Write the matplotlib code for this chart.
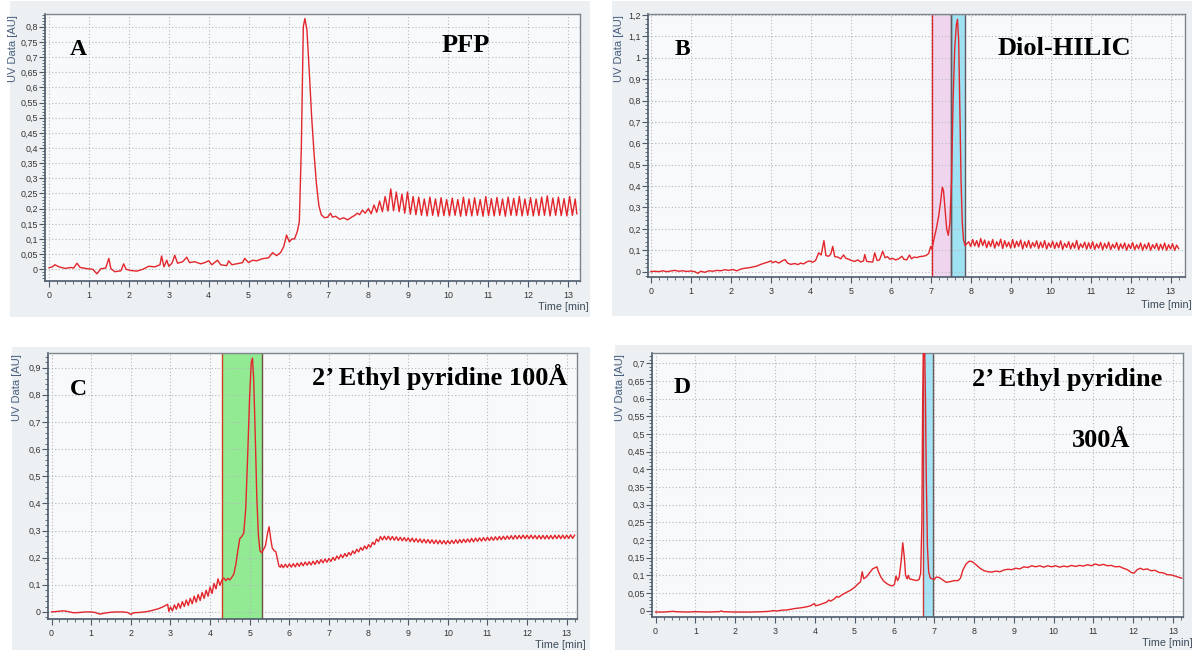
import numpy as np
import matplotlib
matplotlib.use('Agg')
import matplotlib.pyplot as plt
from matplotlib.patches import Rectangle
from matplotlib.ticker import MultipleLocator, FuncFormatter

W, H = 1194, 650

# ---- panel A (PFP) ----
a_time = [0.00, 0.08, 0.15, 0.25, 0.40, 0.55, 0.62, 0.70, 0.78, 0.95,
          1.10, 1.20, 1.30, 1.42, 1.50, 1.55, 1.65, 1.80, 1.87, 1.93,
          2.05, 2.20, 2.35, 2.50, 2.65, 2.78, 2.82, 2.88, 2.95, 3.00,
          3.08, 3.15, 3.22, 3.35, 3.45, 3.52, 3.65, 3.80, 3.90, 4.00,
          4.08, 4.22, 4.30, 4.45, 4.50, 4.58, 4.70, 4.85, 4.90, 5.00,
          5.10, 5.20, 5.35, 5.50, 5.60, 5.70, 5.80, 5.88, 5.95, 6.02,
          6.08, 6.15, 6.22, 6.27, 6.32, 6.37, 6.41, 6.46, 6.52, 6.58,
          6.64, 6.70, 6.76, 6.82, 6.90, 6.98, 7.05, 7.10, 7.18, 7.28,
          7.38, 7.48, 7.58, 7.66, 7.72, 7.78, 7.85, 7.92,
          8.00, 8.07, 8.14, 8.21, 8.28, 8.35, 8.42, 8.49, 8.56, 8.63,
          8.70, 8.77, 8.84, 8.91, 8.98, 9.05, 9.12, 9.19, 9.26, 9.33,
          9.40, 9.47, 9.54, 9.61, 9.68, 9.75, 9.82, 9.89, 9.96, 10.03,
          10.10, 10.17, 10.24, 10.31, 10.38, 10.45, 10.52, 10.59, 10.66, 10.73,
          10.80, 10.87, 10.94, 11.01, 11.08, 11.15, 11.22, 11.29, 11.36, 11.43,
          11.50, 11.57, 11.64, 11.71, 11.78, 11.85, 11.92, 11.99, 12.06, 12.13,
          12.20, 12.27, 12.34, 12.41, 12.48, 12.55, 12.62, 12.69, 12.76, 12.83,
          12.90, 12.97, 13.04, 13.11, 13.18, 13.22]
a_uv = [0.005, 0.008, 0.015, 0.008, 0.003, 0.006, 0.004, 0.020, 0.006, 0.002,
        0.000, -0.015, 0.002, 0.004, 0.036, 0.002, -0.008, -0.005, 0.018, 0.000,
        -0.004, -0.006, 0.000, 0.010, 0.008, 0.015, 0.044, 0.008, 0.030, 0.010,
        0.020, 0.046, 0.020, 0.025, 0.040, 0.022, 0.025, 0.018, 0.022, 0.028,
        0.015, 0.030, 0.015, 0.012, 0.028, 0.015, 0.018, 0.022, 0.036, 0.022,
        0.030, 0.028, 0.035, 0.038, 0.055, 0.045, 0.055, 0.075, 0.113, 0.090,
        0.100, 0.100, 0.125, 0.157, 0.400, 0.800, 0.827, 0.790, 0.650, 0.500,
        0.380, 0.280, 0.210, 0.180, 0.170, 0.172, 0.185, 0.172, 0.175, 0.165,
        0.170, 0.163, 0.172, 0.178, 0.185, 0.180, 0.195, 0.185,
        0.200, 0.183, 0.212, 0.188, 0.225, 0.190, 0.240, 0.192, 0.265, 0.193,
        0.255, 0.190, 0.248, 0.185, 0.255, 0.182, 0.240, 0.180, 0.238, 0.178,
        0.232, 0.176, 0.238, 0.178, 0.232, 0.175, 0.236, 0.177, 0.230, 0.176,
        0.235, 0.178, 0.230, 0.175, 0.238, 0.177, 0.232, 0.176, 0.236, 0.178,
        0.230, 0.175, 0.240, 0.177, 0.233, 0.176, 0.237, 0.178, 0.232, 0.175,
        0.238, 0.178, 0.234, 0.177, 0.240, 0.176, 0.232, 0.178, 0.236, 0.176,
        0.232, 0.177, 0.238, 0.178, 0.242, 0.176, 0.235, 0.178, 0.238, 0.177,
        0.233, 0.176, 0.240, 0.178, 0.232, 0.183]

# ---- panel B (Diol-HILIC) ----
b_time = [0.00, 0.10, 0.20, 0.30, 0.40, 0.50, 0.60, 0.70, 0.80, 0.90,
          1.00, 1.10, 1.18, 1.25, 1.35, 1.45, 1.55, 1.65, 1.75, 1.85,
          1.95, 2.05, 2.15, 2.25, 2.35, 2.45, 2.55, 2.65, 2.75, 2.85,
          2.95, 3.00, 3.05, 3.12, 3.20, 3.30, 3.36, 3.42, 3.50, 3.60,
          3.68, 3.75, 3.82, 3.90, 3.97, 4.05, 4.12, 4.20, 4.26, 4.33,
          4.38, 4.45, 4.50, 4.55, 4.60, 4.68, 4.75, 4.82, 4.88, 4.95,
          5.02, 5.10, 5.18, 5.25, 5.32, 5.35, 5.40, 5.48, 5.55, 5.60,
          5.66, 5.72, 5.80, 5.86, 5.92, 5.98, 6.05, 6.12, 6.20, 6.28,
          6.33, 6.40, 6.47, 6.52, 6.58, 6.65, 6.72, 6.80, 6.88, 6.95,
          7.00, 7.03, 7.08, 7.14, 7.20, 7.25, 7.29, 7.32, 7.36, 7.40,
          7.44, 7.48, 7.52, 7.56, 7.60, 7.64, 7.67, 7.70, 7.73, 7.76,
          7.79, 7.82, 7.86, 7.90,
          7.95, 8.00, 8.05, 8.10, 8.15, 8.20, 8.25, 8.30, 8.35, 8.40,
          8.45, 8.50, 8.55, 8.60, 8.65, 8.70, 8.75, 8.80, 8.85, 8.90,
          8.95, 9.00, 9.05, 9.10, 9.15, 9.20, 9.25, 9.30, 9.35, 9.40,
          9.45, 9.50, 9.55, 9.60, 9.65, 9.70, 9.75, 9.80, 9.85, 9.90,
          9.95, 10.00, 10.05, 10.10, 10.15, 10.20, 10.25, 10.30, 10.35, 10.40,
          10.45, 10.50, 10.55, 10.60, 10.65, 10.70, 10.75, 10.80, 10.85, 10.90,
          10.95, 11.00, 11.05, 11.10, 11.15, 11.20, 11.25, 11.30, 11.35, 11.40,
          11.45, 11.50, 11.55, 11.60, 11.65, 11.70, 11.75, 11.80, 11.85, 11.90,
          11.95, 12.00, 12.05, 12.10, 12.15, 12.20, 12.25, 12.30, 12.35, 12.40,
          12.45, 12.50, 12.55, 12.60, 12.65, 12.70, 12.75, 12.80, 12.85, 12.90,
          12.95, 13.00, 13.05, 13.10, 13.15, 13.20]
b_uv = [0.000, 0.002, 0.000, 0.004, 0.000, 0.003, 0.006, 0.002, 0.004, 0.001,
        0.003, 0.000, -0.008, 0.002, -0.003, 0.004, 0.002, 0.006, 0.004, 0.009,
        0.006, 0.010, 0.004, 0.012, 0.016, 0.018, 0.022, 0.026, 0.034, 0.040,
        0.046, 0.050, 0.042, 0.048, 0.040, 0.052, 0.056, 0.040, 0.034, 0.038,
        0.033, 0.040, 0.036, 0.046, 0.050, 0.044, 0.052, 0.088, 0.078, 0.145,
        0.075, 0.072, 0.082, 0.118, 0.070, 0.068, 0.060, 0.078, 0.062, 0.058,
        0.052, 0.048, 0.055, 0.045, 0.050, 0.080, 0.048, 0.046, 0.045, 0.088,
        0.052, 0.055, 0.095, 0.065, 0.070, 0.058, 0.062, 0.055, 0.060, 0.072,
        0.058, 0.055, 0.078, 0.060, 0.068, 0.066, 0.070, 0.072, 0.075, 0.085,
        0.118, 0.105, 0.150, 0.200, 0.260, 0.330, 0.395, 0.380, 0.290, 0.200,
        0.170, 0.230, 0.420, 0.800, 1.040, 1.150, 1.180, 1.080, 0.760, 0.420,
        0.230, 0.150, 0.122, 0.130,
        0.140, 0.118, 0.150, 0.120, 0.145, 0.115, 0.155, 0.122, 0.148, 0.112,
        0.142, 0.118, 0.150, 0.110, 0.140, 0.120, 0.152, 0.108, 0.145, 0.116,
        0.138, 0.110, 0.150, 0.112, 0.142, 0.118, 0.148, 0.106, 0.140, 0.114,
        0.146, 0.110, 0.136, 0.116, 0.144, 0.108, 0.138, 0.112, 0.145, 0.106,
        0.134, 0.114, 0.142, 0.108, 0.136, 0.112, 0.144, 0.104, 0.132, 0.113,
        0.140, 0.106, 0.134, 0.110, 0.146, 0.104, 0.130, 0.112, 0.138, 0.105,
        0.135, 0.108, 0.140, 0.104, 0.130, 0.110, 0.137, 0.102, 0.132, 0.109,
        0.138, 0.103, 0.128, 0.110, 0.136, 0.102, 0.130, 0.108, 0.134, 0.100,
        0.128, 0.108, 0.136, 0.102, 0.126, 0.107, 0.134, 0.100, 0.128, 0.106,
        0.135, 0.100, 0.126, 0.108, 0.132, 0.101, 0.128, 0.104, 0.134, 0.100,
        0.126, 0.106, 0.130, 0.100, 0.124, 0.108]

# ---- panel C (2' Ethyl pyridine 100 A) ----
c_time = [0.00, 0.15, 0.30, 0.40, 0.55, 0.70, 0.85, 1.00, 1.10, 1.22,
          1.35, 1.50, 1.65, 1.80, 1.92, 2.00, 2.08, 2.20, 2.35, 2.50,
          2.60, 2.70, 2.80, 2.88, 2.93, 2.96,
          3.00, 3.05, 3.10, 3.15, 3.20, 3.25, 3.30, 3.35, 3.40, 3.45,
          3.50, 3.55, 3.60, 3.65, 3.70, 3.75, 3.80, 3.85, 3.90, 3.95,
          4.00, 4.05, 4.10, 4.15, 4.20, 4.25,
          4.30, 4.35, 4.40, 4.45, 4.50, 4.55, 4.60, 4.65, 4.70, 4.75,
          4.80, 4.85, 4.90, 4.95, 5.00, 5.04, 5.07, 5.10, 5.14, 5.18,
          5.22, 5.26, 5.30, 5.35, 5.40, 5.45, 5.49, 5.53, 5.57, 5.62,
          5.66, 5.70, 5.74, 5.78,
          5.80, 5.85, 5.90, 5.95, 6.00, 6.05, 6.10, 6.15, 6.20, 6.25,
          6.30, 6.35, 6.40, 6.45, 6.50, 6.55, 6.60, 6.65, 6.70, 6.75,
          6.80, 6.85, 6.90, 6.95, 7.00, 7.05, 7.10, 7.15, 7.20, 7.25,
          7.30, 7.35, 7.40, 7.45, 7.50, 7.55, 7.60, 7.65, 7.70, 7.75,
          7.80, 7.85, 7.90, 7.95, 8.00, 8.05, 8.10, 8.15, 8.20, 8.25,
          8.30, 8.35, 8.40, 8.45, 8.50, 8.55, 8.60, 8.65, 8.70, 8.75,
          8.80, 8.85, 8.90, 8.95, 9.00, 9.05, 9.10, 9.15, 9.20, 9.25,
          9.30, 9.35, 9.40, 9.45, 9.50, 9.55, 9.60, 9.65, 9.70, 9.75,
          9.80, 9.85, 9.90, 9.95, 10.00, 10.05, 10.10, 10.15, 10.20, 10.25,
          10.30, 10.35, 10.40, 10.45, 10.50, 10.55, 10.60, 10.65, 10.70, 10.75,
          10.80, 10.85, 10.90, 10.95, 11.00, 11.05, 11.10, 11.15, 11.20, 11.25,
          11.30, 11.35, 11.40, 11.45, 11.50, 11.55, 11.60, 11.65, 11.70, 11.75,
          11.80, 11.85, 11.90, 11.95, 12.00, 12.05, 12.10, 12.15, 12.20, 12.25,
          12.30, 12.35, 12.40, 12.45, 12.50, 12.55, 12.60, 12.65, 12.70, 12.75,
          12.80, 12.85, 12.90, 12.95, 13.00, 13.05, 13.10, 13.15, 13.20]
c_uv = [0.000, 0.002, 0.004, 0.002, -0.003, -0.002, 0.000, 0.000, -0.002, -0.008,
        -0.004, -0.001, 0.000, 0.000, -0.002, -0.009, -0.003, -0.002, 0.000, 0.004,
        0.008, 0.012, 0.018, 0.024, 0.028, 0.002,
        0.018, 0.004, 0.026, 0.010, 0.032, 0.014, 0.038, 0.020, 0.044, 0.024,
        0.050, 0.030, 0.058, 0.036, 0.064, 0.042, 0.072, 0.050, 0.080, 0.058,
        0.092, 0.068, 0.105, 0.085, 0.122, 0.098,
        0.118, 0.125, 0.115, 0.124, 0.118, 0.128, 0.140, 0.175, 0.225, 0.270,
        0.278, 0.290, 0.380, 0.580, 0.800, 0.920, 0.935, 0.860, 0.650, 0.420,
        0.280, 0.225, 0.218, 0.230, 0.245, 0.290, 0.314, 0.270, 0.235, 0.225,
        0.222, 0.195, 0.168, 0.165,
        0.175, 0.163, 0.176, 0.164, 0.177, 0.165, 0.178, 0.166, 0.180, 0.168,
        0.182, 0.170, 0.184, 0.172, 0.185, 0.173, 0.187, 0.175, 0.190, 0.178,
        0.193, 0.181, 0.195, 0.183, 0.197, 0.186, 0.201, 0.190, 0.206, 0.195,
        0.211, 0.200, 0.215, 0.204, 0.219, 0.209, 0.225, 0.215, 0.231, 0.221,
        0.237, 0.227, 0.243, 0.232, 0.248, 0.238, 0.257, 0.248, 0.269, 0.259,
        0.278, 0.265, 0.279, 0.266, 0.279, 0.265, 0.278, 0.264, 0.277, 0.263,
        0.275, 0.262, 0.274, 0.261, 0.273, 0.259, 0.272, 0.258, 0.270, 0.257,
        0.269, 0.255, 0.268, 0.254, 0.267, 0.253, 0.266, 0.252, 0.265, 0.251,
        0.264, 0.251, 0.263, 0.250, 0.263, 0.251, 0.264, 0.252, 0.266, 0.253,
        0.267, 0.255, 0.268, 0.256, 0.269, 0.257, 0.271, 0.258, 0.272, 0.260,
        0.273, 0.261, 0.274, 0.262, 0.275, 0.263, 0.276, 0.264, 0.277, 0.265,
        0.278, 0.266, 0.279, 0.267, 0.280, 0.268, 0.281, 0.268, 0.282, 0.269,
        0.282, 0.270, 0.283, 0.270, 0.283, 0.270, 0.283, 0.270, 0.282, 0.269,
        0.282, 0.269, 0.282, 0.269, 0.282, 0.269, 0.282, 0.269, 0.283, 0.270,
        0.283, 0.270, 0.283, 0.270, 0.283, 0.271, 0.284, 0.271, 0.283]

# ---- panel D (2' Ethyl pyridine 300 A) ----
d_time = [0.00, 0.20, 0.45, 0.50, 0.80, 1.00, 1.30, 1.60, 1.65, 1.70,
          2.00, 2.40, 2.70, 2.85, 2.95, 3.05, 3.15, 3.30, 3.40, 3.50,
          3.65, 3.80, 3.90, 3.98, 4.02, 4.10, 4.20, 4.30, 4.35, 4.40,
          4.50, 4.55, 4.60, 4.70, 4.80, 4.90, 5.00, 5.08, 5.15, 5.19,
          5.23, 5.30, 5.38, 5.45, 5.52, 5.56, 5.60, 5.66, 5.72, 5.80,
          5.88, 5.95, 6.00, 6.04, 6.08, 6.12, 6.17, 6.21, 6.25, 6.28,
          6.32, 6.35, 6.38, 6.45, 6.55, 6.62, 6.66, 6.69, 6.71, 6.73,
          6.76, 6.78, 6.80, 6.83, 6.86, 6.90, 6.95, 7.00, 7.05, 7.12,
          7.20, 7.30, 7.40, 7.50, 7.60, 7.66, 7.72, 7.80, 7.88, 7.95,
          8.05, 8.15, 8.25, 8.35, 8.45, 8.55, 8.65, 8.75, 8.85, 8.95,
          9.05, 9.15, 9.25, 9.35, 9.45, 9.55, 9.65, 9.75, 9.85, 9.95,
          10.05, 10.15, 10.25, 10.35, 10.45, 10.55, 10.65, 10.75, 10.85, 10.95,
          11.05, 11.15, 11.25, 11.35, 11.45, 11.55, 11.65, 11.75, 11.85, 11.95,
          12.02, 12.10, 12.18, 12.25, 12.35, 12.45, 12.55, 12.65, 12.75, 12.85,
          12.95, 13.05, 13.15, 13.22]
d_uv = [-0.004, -0.004, -0.002, -0.003, -0.004, -0.003, -0.004, -0.003, -0.001, -0.003,
        -0.004, -0.004, -0.003, -0.002, 0.000, -0.001, 0.001, 0.002, 0.004, 0.006,
        0.008, 0.011, 0.014, 0.020, 0.014, 0.016, 0.020, 0.024, 0.030, 0.027,
        0.034, 0.040, 0.038, 0.046, 0.052, 0.058, 0.066, 0.075, 0.082, 0.110,
        0.090, 0.096, 0.108, 0.118, 0.122, 0.124, 0.110, 0.095, 0.085, 0.077,
        0.072, 0.070, 0.074, 0.098, 0.085, 0.095, 0.140, 0.192, 0.150, 0.100,
        0.090, 0.100, 0.090, 0.088, 0.085, 0.088, 0.105, 0.250, 0.600, 0.740,
        0.740, 0.600, 0.380, 0.180, 0.110, 0.092, 0.090, 0.088, 0.095, 0.094,
        0.088, 0.080, 0.082, 0.085, 0.085, 0.092, 0.115, 0.132, 0.140, 0.139,
        0.130, 0.120, 0.113, 0.110, 0.109, 0.112, 0.110, 0.115, 0.117, 0.116,
        0.120, 0.118, 0.124, 0.122, 0.127, 0.124, 0.127, 0.123, 0.127, 0.124,
        0.127, 0.123, 0.126, 0.124, 0.128, 0.125, 0.128, 0.126, 0.130, 0.127,
        0.132, 0.128, 0.131, 0.127, 0.128, 0.124, 0.125, 0.120, 0.116, 0.108,
        0.106, 0.116, 0.120, 0.116, 0.118, 0.113, 0.114, 0.108, 0.107, 0.102,
        0.101, 0.098, 0.094, 0.092]

PANEL_BG = '#edf0f2'
AX_BG = '#f8f9fa'
LINE = '#e2262c'
FRAME = '#4d5b6a'
TICKFONT = 'Liberation Sans'


def comma(v, pos):
    s = ('%.3f' % v).rstrip('0').rstrip('.')
    if s in ('-0', ''):
        s = '0'
    return s.replace('.', ',')


fig = plt.figure(figsize=(W / 100, H / 100), dpi=100)
fig.patch.set_facecolor('white')


def panel(box, bg, t, uv, xlim, ylim, ymaj, ymin, spans, ylab_x, time_xy):
    l, top, r, b = box
    fig.patches.append(Rectangle((bg[0] / W, 1 - bg[3] / H), (bg[2] - bg[0]) / W,
                                 (bg[3] - bg[1]) / H, transform=fig.transFigure,
                                 facecolor=PANEL_BG, edgecolor='none', zorder=-5))
    ax = fig.add_axes([l / W, 1 - b / H, (r - l) / W, (b - top) / H])
    ax.set_facecolor(AX_BG)
    for x0, x1, col, lcol, rcol in spans:
        ax.axvspan(x0, x1, color=col, lw=0, zorder=1)
        ax.axvline(x0, color=lcol, lw=1.0, zorder=2)
        ax.axvline(x1, color=rcol, lw=1.0, zorder=2)
    ax.plot(t, uv, color=LINE, lw=1.0, zorder=3)
    ax.set_xlim(*xlim)
    ax.set_ylim(*ylim)
    ax.xaxis.set_major_locator(MultipleLocator(1))
    ax.xaxis.set_minor_locator(MultipleLocator(0.2))
    ax.yaxis.set_major_locator(MultipleLocator(ymaj))
    ax.yaxis.set_minor_locator(MultipleLocator(ymin))
    ax.yaxis.set_major_formatter(FuncFormatter(comma))
    ax.grid(True, which='major', linestyle=(0, (1, 2)), color='#b3b8bd', lw=0.8, zorder=0)
    ax.tick_params(which='both', direction='out', colors=FRAME, labelcolor='#333333',
                   labelsize=6.4)
    ax.tick_params(which='major', length=4, width=0.8)
    ax.tick_params(which='minor', length=2, width=0.6)
    ax.tick_params(axis='y', which='major', pad=1.2)
    ax.tick_params(axis='x', which='major', pad=3)
    for side in ('left', 'bottom'):
        ax.spines[side].set_color(FRAME)
        ax.spines[side].set_linewidth(1.2)
    for side in ('top', 'right'):
        ax.spines[side].set_color('#7d858d')
        ax.spines[side].set_linewidth(1.0)
    for lab in ax.get_xticklabels() + ax.get_yticklabels():
        lab.set_family(TICKFONT)
    fig.text(ylab_x / W, 1 - (top + 1) / H, 'UV Data [AU]', rotation=90, ha='center', va='top',
             fontsize=8, color='#4a6080', family='Liberation Sans')
    fig.text(time_xy[0] / W, 1 - time_xy[1] / H, 'Time [min]', ha='right', va='center',
             fontsize=7.8, color='#3a4a5a', family='Liberation Sans')
    return ax


def big(x, y, s, size=18):
    fig.text(x / W, 1 - y / H, s, ha='left', va='baseline', fontsize=size,
             fontweight='bold', family='Liberation Serif', color='black')


panel((45, 14, 580, 281), (10, 1, 590, 317), a_time, a_uv,
      (-0.1, 13.3), (-0.0386, 0.842), 0.05, 0.01, [], 13, (589, 307))
panel((648, 14, 1185, 277), (612, 1, 1192, 316), b_time, b_uv,
      (-0.07, 13.36), (-0.025, 1.2047), 0.1, 0.02,
      [(7.03, 7.50, '#efd6ee', '#d8262c', '#5e5a60'),
       (7.50, 7.87, '#9fe2f4', '#5e5a60', '#5e5a60')], 619, (1192, 305))
panel((48, 353, 577, 619), (12, 347, 590, 650), c_time, c_uv,
      (-0.09, 13.26), (-0.026, 0.954), 0.1, 0.02,
      [(4.29, 5.31, '#92ea92', '#d0401e', '#6b5040')], 17, (586, 645))
panel((652, 353, 1183, 617), (615, 345, 1192, 650), d_time, d_uv,
      (-0.09, 13.25), (-0.018, 0.729), 0.05, 0.01,
      [(6.71, 6.96, '#a6e3f4', '#c8383a', '#6b5a5a')], 620, (1193, 643))

big(70, 55, 'A', 17)
big(442, 52, 'PFP', 19)
big(675, 55, 'B', 17)
big(998, 55, 'Diol-HILIC', 19)
big(70, 395, 'C', 17)
big(312, 385, '2\u2019 Ethyl pyridine 100\u00c5', 19)
big(674, 393, 'D', 17)
big(972, 386, '2\u2019 Ethyl pyridine', 19)
big(1072, 447, '300\u00c5', 19)

fig.savefig('out.png', dpi=100)
